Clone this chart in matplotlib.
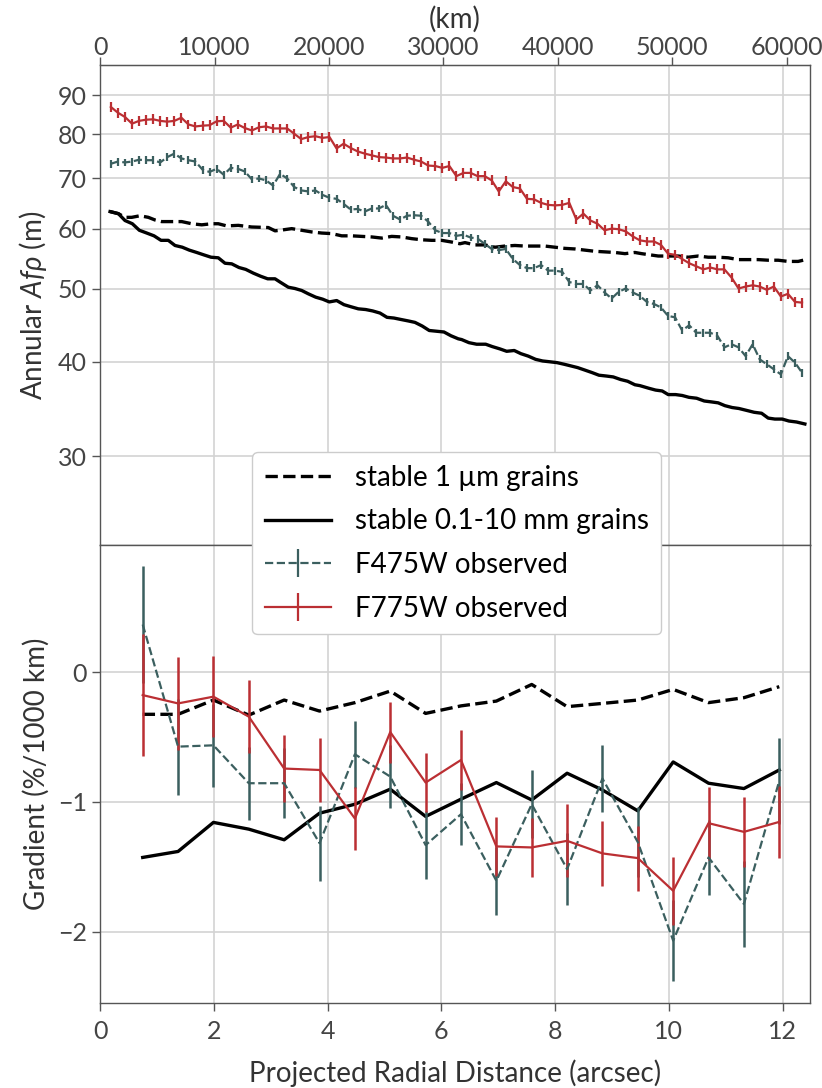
import numpy as np
import matplotlib
matplotlib.use("Agg")
import matplotlib.pyplot as plt
from matplotlib.ticker import NullLocator

plt.rcParams['font.family'] = ['Lato', 'DejaVu Sans']
plt.rcParams['mathtext.fontset'] = 'custom'
plt.rcParams['mathtext.rm'] = 'Lato'
plt.rcParams['mathtext.it'] = 'Lato:italic'

# ---- top panel: annular Afrho vs radius (arcsec) ----
r_obs = np.linspace(0.19, 12.34, 99)  # radial bins

afrho_f775 = [86.9, 85.4, 84.3, 82.6, 83.3, 83.6, 83.7, 83.3, 83.1, 83.3, 84.1, 82.4, 81.9, 82.1, 82.2, 83.2,
              83.3, 81.6, 82.4, 81.5, 80.9, 81.7, 81.9, 81.4,
              81.4, 81.4, 80.1, 78.8, 79.3, 79.5, 79.1, 79.3, 76.6, 77.7, 76.7, 75.9, 75.4, 75.0, 74.6, 74.5,
              74.3, 74.3, 74.5, 74.0, 73.6, 72.7, 72.6, 72.2, 72.6, 70.4,
              71.1, 71.1, 70.4, 70.4, 69.5, 67.2, 69.3, 68.1, 67.8, 65.7, 65.6, 64.9, 64.5, 64.4, 64.5, 64.9,
              61.7, 62.8, 61.5, 60.9, 59.7, 60.0, 59.9, 59.5, 58.6, 57.9,
              57.7, 57.7, 57.1, 55.6, 55.4, 54.7, 54.0, 53.5, 53.0, 53.3, 53.0, 53.0, 51.7, 50.0, 50.3, 50.5,
              50.3, 49.8, 50.3, 48.8, 49.2, 48.0, 47.9]
afrho_f475 = [73.1, 73.6, 73.4, 73.6, 74.0, 73.9, 73.9, 73.4, 74.6, 75.4, 74.3, 73.9, 73.6, 71.8, 71.3, 72.0,
              70.7, 72.2, 72.0, 71.4, 69.7, 69.9, 69.5, 68.4,
              70.9, 69.9, 68.1, 67.4, 67.2, 67.4, 66.5, 65.9, 65.7, 64.7, 63.6, 63.7, 63.2, 63.8, 63.8, 64.5,
              62.4, 61.7, 62.4, 62.5, 62.4, 61.3, 59.7, 59.2, 59.2, 58.7,
              58.9, 58.4, 58.2, 57.3, 56.4, 56.2, 56.4, 54.7, 53.7, 53.2, 53.2, 53.7, 52.8, 52.8, 52.6, 51.0,
              50.7, 50.7, 49.7, 50.5, 49.4, 48.5, 49.5, 50.0, 49.4, 48.9,
              48.0, 47.7, 47.2, 46.0, 45.8, 44.0, 44.7, 43.7, 43.7, 43.7, 43.3, 41.8, 42.2, 41.8, 40.7, 42.2,
              40.3, 39.7, 39.1, 38.5, 40.7, 39.9, 38.7]
rel_err_f775 = 0.015
rel_err_f475 = 0.012

r_small = [0.176, 0.322, 0.439, 0.557, 0.703, 0.849, 0.967, 1.084, 1.260, 1.436, 1.612, 1.787, 1.963, 2.079,
           2.227, 2.431, 2.666, 2.958, 3.076, 3.163, 3.369, 3.545, 3.721, 3.896, 4.072, 4.248, 4.424, 4.599,
           4.775, 4.951, 5.127, 5.302, 5.478, 5.654, 5.829, 6.005, 6.181, 6.327, 6.415, 6.591, 6.766, 6.942,
           7.118, 7.293, 7.469, 7.645, 7.821, 7.996, 8.172, 8.348, 8.524, 8.699, 8.875, 9.051, 9.227, 9.402,
           9.520, 9.666, 9.812, 9.988, 10.163, 10.339, 10.515, 10.691, 10.866, 11.042, 11.218, 11.394, 11.569,
           11.745, 11.921, 12.097, 12.272, 12.360]
afrho_small = [63.2, 62.8, 62.1, 62.1, 62.4, 62.1, 61.6, 61.3, 61.3, 61.3, 60.9, 60.7, 60.9, 60.9, 60.5, 60.6,
               60.3, 60.2, 59.6, 59.7, 60.0, 59.7, 59.4, 59.2, 59.1, 58.7, 58.7, 58.6, 58.5, 58.3, 58.6, 58.5,
               58.2, 58.0, 57.9, 57.9, 57.6, 57.3, 57.5, 57.1, 57.1, 56.7, 56.9, 57.0, 56.9, 56.9, 56.9, 56.7,
               56.5, 56.4, 56.2, 56.0, 55.9, 55.8, 55.6, 55.8, 55.6, 55.4, 55.2, 55.2, 55.2, 55.0, 55.2, 55.0,
               55.0, 54.9, 54.6, 54.6, 54.6, 54.5, 54.5, 54.3, 54.3, 54.5]

r_large = [0.176, 0.322, 0.439, 0.568, 0.691, 0.821, 0.949, 1.072, 1.200, 1.318, 1.446, 1.569, 1.699, 1.822,
           1.951, 2.079, 2.197, 2.315, 2.443, 2.561, 2.694, 2.824, 2.947, 3.076, 3.163, 3.309, 3.427, 3.545,
           3.661, 3.791, 3.914, 4.030, 4.160, 4.288, 4.411, 4.540, 4.670, 4.793, 4.921, 5.044, 5.167, 5.290,
           5.418, 5.536, 5.664, 5.787, 5.917, 6.046, 6.169, 6.297, 6.357, 6.485, 6.620, 6.779, 6.894, 7.030,
           7.148, 7.281, 7.399, 7.527, 7.657, 7.780, 7.909, 8.032, 8.160, 8.278, 8.395, 8.524, 8.652, 8.770,
           8.905, 9.021, 9.151, 9.274, 9.402, 9.490, 9.649, 9.766, 9.882, 9.988, 10.118, 10.234, 10.352,
           10.487, 10.621, 10.750, 10.866, 10.984, 11.112, 11.230, 11.365, 11.499, 11.629, 11.745, 11.863,
           11.991, 12.109, 12.244, 12.390]
afrho_large = [63.2, 62.8, 61.5, 60.9, 59.7, 59.2, 58.7, 57.9, 57.9, 57.0, 56.7, 56.2, 55.8, 55.4, 55.0, 54.9,
               54.0, 53.9, 53.3, 53.0, 52.4, 51.9, 51.5, 51.5, 51.0, 50.2, 50.0, 49.7, 49.2, 48.7, 48.4, 48.0,
               48.2, 47.6, 47.3, 47.0, 46.9, 46.7, 46.4, 45.8, 45.7, 45.5, 45.3, 45.1, 44.6, 44.0, 43.9, 43.8,
               43.3, 42.9, 42.8, 42.4, 42.2, 42.2, 41.9, 41.6, 41.3, 41.4, 41.0, 40.7, 40.3, 40.1, 40.0, 39.9,
               39.7, 39.5, 39.3, 39.0, 38.7, 38.4, 38.3, 38.2, 37.9, 37.7, 37.3, 37.2, 36.9, 36.7, 36.6, 36.2,
               36.2, 36.1, 35.9, 35.8, 35.5, 35.4, 35.3, 35.0, 34.8, 34.7, 34.5, 34.3, 34.2, 33.7, 33.6, 33.6,
               33.4, 33.3, 33.1]

# ---- bottom panel: gradient (%/1000 km) ----
r_grad = np.linspace(0.75, 11.94, 19)
grad_small = [-0.325, -0.325, -0.215, -0.331, -0.215, -0.30, -0.235, -0.146, -0.318, -0.26, -0.223, -0.095,
              -0.266, -0.241, -0.215, -0.133, -0.235, -0.197, -0.112]
grad_large = [-1.428, -1.382, -1.158, -1.21, -1.292, -1.087, -1.018, -0.902, -1.112, -0.979, -0.851, -0.985,
              -0.779, -0.908, -1.069, -0.692, -0.856, -0.897, -0.754]
grad_f475 = [0.367, -0.574, -0.564, -0.856, -0.856, -1.318, -0.633, -0.805, -1.333, -1.095, -1.608, -1.018,
             -1.518, -0.82, -1.31, -2.069, -1.428, -1.787, -0.838]
grad_f475_err = [0.45, 0.37, 0.32, 0.28, 0.27, 0.29, 0.26, 0.24, 0.26, 0.24, 0.26, 0.26, 0.28, 0.26, 0.27,
                 0.31, 0.29, 0.33, 0.33]
grad_f775 = [-0.177, -0.241, -0.189, -0.343, -0.743, -0.754, -1.128, -0.462, -0.851, -0.677, -1.343, -1.351,
             -1.30, -1.397, -1.433, -1.685, -1.164, -1.231, -1.154]
grad_f775_err = [0.47, 0.36, 0.31, 0.28, 0.26, 0.25, 0.24, 0.235, 0.23, 0.23, 0.23, 0.23, 0.28, 0.25, 0.25,
                 0.26, 0.28, 0.27, 0.28]

KM_PER_ARCSEC = 4970
teal = '#3b5f5f'
red = '#bb2f33'
grid_c = '#d3d3d3'
spine_c = '#555555'
text_c = '#333333'
fs = 20       # labels / legend
fs_tick = 18

fig = plt.figure(figsize=(8.22, 10.88), dpi=100)
ax1 = fig.add_axes([0.1217, 0.4991, 0.8637, 0.4407])
ax2 = fig.add_axes([0.1217, 0.0781, 0.8637, 0.4210], sharex=ax1)

# top panel
ax1.plot(r_small, afrho_small, color='k', ls='--', lw=2.4, label='stable 1 µm grains')
ax1.plot(r_large, afrho_large, color='k', ls='-', lw=2.4, label='stable 0.1-10 mm grains')
f475 = np.array(afrho_f475)
f775 = np.array(afrho_f775)
ax1.errorbar(r_obs, f475, yerr=f475 * rel_err_f475, color=teal, ls='--', lw=1.6, elinewidth=1.6,
             capsize=0, label='F475W observed')
ax1.errorbar(r_obs, f775, yerr=f775 * rel_err_f775, color=red, ls='-', lw=1.6, elinewidth=1.6,
             capsize=0, label='F775W observed')
ax1.set_yscale('log')
ax1.set_ylim(22.9, 98.6)
ax1.set_yticks([30, 40, 50, 60, 70, 80, 90])
ax1.set_yticklabels(['30', '40', '50', '60', '70', '80', '90'])
ax1.yaxis.set_minor_locator(NullLocator())
ax1.set_xlim(0, 12.48)
ax1.tick_params(axis='x', which='both', bottom=False, labelbottom=False)
ax1.set_ylabel(r'Annular $Af\rho$ (m)', fontsize=fs, color=text_c, labelpad=6)

secax = ax1.secondary_xaxis('top', functions=(lambda r: r * KM_PER_ARCSEC, lambda k: k / KM_PER_ARCSEC))
secax.set_xticks(np.arange(0, 60001, 10000))
secax.set_xlabel('(km)', fontsize=fs, color=text_c, labelpad=6)
secax.tick_params(direction='out', length=6, width=1, pad=-1.5, color=spine_c, labelsize=fs_tick,
                  labelcolor='#444444')
secax.spines['top'].set_color(spine_c)

# bottom panel
ax2.plot(r_grad, grad_small, color='k', ls='--', lw=2.4)
ax2.plot(r_grad, grad_large, color='k', ls='-', lw=2.4)
ax2.errorbar(r_grad, grad_f475, yerr=grad_f475_err, color=teal, ls='--', lw=1.6, elinewidth=1.8, capsize=0)
ax2.errorbar(r_grad, grad_f775, yerr=grad_f775_err, color=red, ls='-', lw=1.6, elinewidth=1.8, capsize=0)
ax2.set_ylim(-2.55, 0.98)
ax2.set_yticks([-2, -1, 0])
ax2.set_xticks(np.arange(0, 13, 2))
ax2.set_ylabel('Gradient (%/1000 km)', fontsize=fs, color=text_c, labelpad=6)

for ax in (ax1, ax2):
    ax.set_axisbelow(True)
    ax.grid(True, color=grid_c, lw=1.2)
    ax.tick_params(direction='out', length=6, width=1, color=spine_c, labelsize=fs_tick, labelcolor='#444444')
    for s in ax.spines.values():
        s.set_color(spine_c)
        s.set_linewidth(1.0)
ax2.tick_params(axis='x', pad=6)
ax2.set_xlabel('Projected Radial Distance (arcsec)', fontsize=fs, color=text_c, labelpad=12)

handles, labels = ax1.get_legend_handles_labels()
fig.legend(handles, labels, loc='upper left', bbox_to_anchor=(252 / 822, 1 - 452 / 1088),
           frameon=True, fancybox=True, framealpha=1, edgecolor='#cccccc', fontsize=fs,
           handlelength=2.4, handletextpad=0.85, labelspacing=0.64, borderpad=0.45, borderaxespad=0)

fig.savefig('out.png', dpi=100)
